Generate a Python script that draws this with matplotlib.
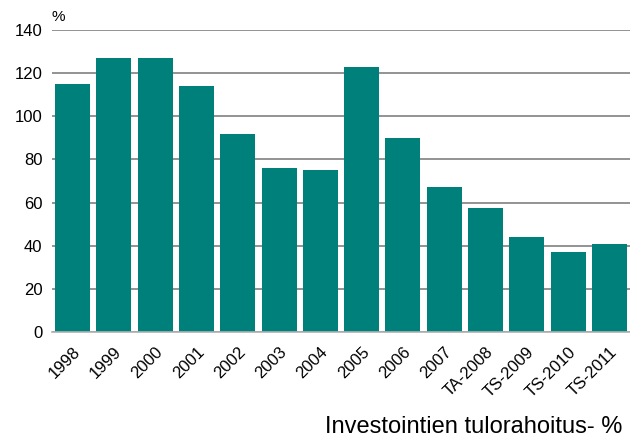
import matplotlib.pyplot as plt

plt.rcParams['font.family'] = ['Liberation Sans', 'DejaVu Sans']

# data
years = ["1998", "1999", "2000", "2001", "2002", "2003", "2004", "2005",
         "2006", "2007", "TA-2008", "TS-2009", "TS-2010", "TS-2011"]
values = [115, 127, 127, 114, 92, 76, 75, 123, 90, 67, 57.5, 44, 37, 41]

fig = plt.figure(figsize=(6.3, 4.43), dpi=100)
ax = fig.add_axes([52 / 630, 111 / 443, 578 / 630, 302 / 443])

# gridlines behind the bars
ax.set_axisbelow(True)
ax.yaxis.grid(True, color='#808080', linewidth=1.2)
ax.bar(range(len(years)), values, width=0.85, color='#00807a', zorder=2)

ax.set_xlim(-0.5, len(years) - 0.5)
ax.set_ylim(0, 140)
ax.set_yticks(range(0, 141, 20))
ax.set_xticks(range(len(years)))
ax.set_xticklabels(years, rotation=45, ha='right', rotation_mode='anchor')
ax.tick_params(axis='both', length=0, labelsize=12, pad=7)
ax.tick_params(axis='x', pad=9)

for s in ['top', 'right', 'left']:
    ax.spines[s].set_visible(False)
ax.spines['bottom'].set_color('#b0b0b0')
ax.spines['bottom'].set_linewidth(1.2)

ax.text(0, 1.02, "%", transform=ax.transAxes, fontsize=11, ha='left', va='bottom')
fig.text(622 / 630, 5 / 443, "Investointien tulorahoitus- %", fontsize=17,
         ha='right', va='bottom')

fig.savefig("out.png", dpi=100)
